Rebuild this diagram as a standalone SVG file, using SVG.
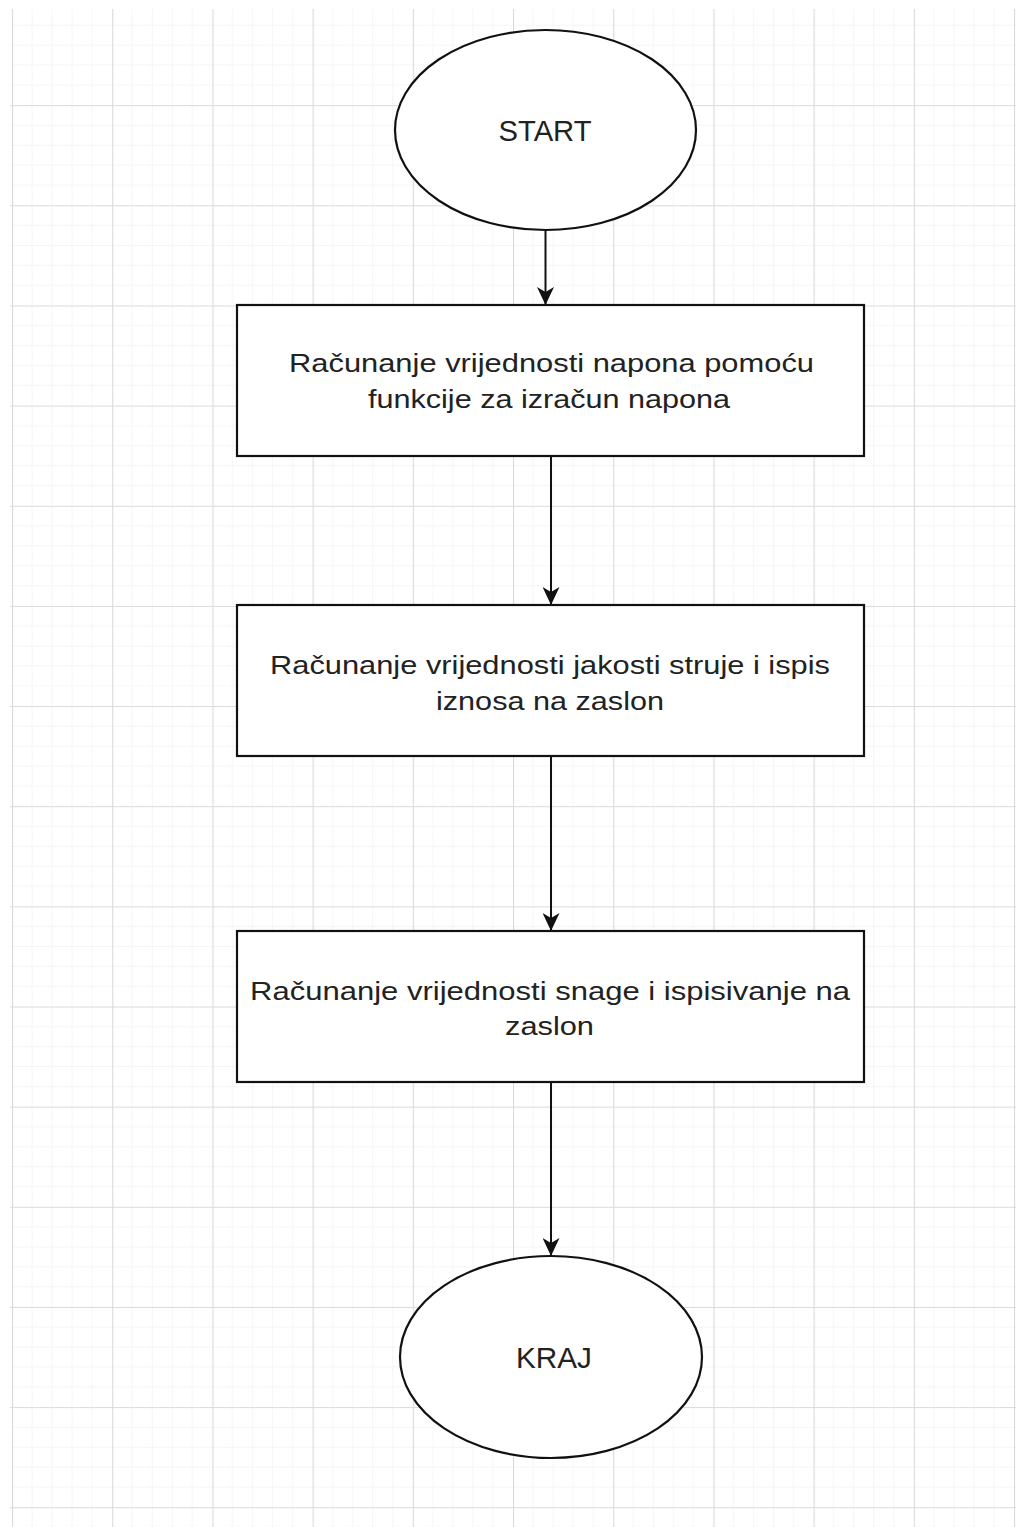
<svg xmlns="http://www.w3.org/2000/svg" width="1016" height="1527" viewBox="0 0 1016 1527">
  <style>
    .node { fill: #ffffff; stroke: #111111; stroke-width: 2.2; }
    .lbl { font-family: "Liberation Sans", Arial, sans-serif; fill: #222222; text-anchor: middle; }
    .big { font-size: 29px; }
    .body { font-size: 25.5px; }
    .edge { stroke: #111111; stroke-width: 2; fill: none; }
  </style>
  <defs>
    <pattern id="grid" x="12" y="5" width="100.2" height="100.15" patternUnits="userSpaceOnUse">
      <path d="M20.04 0 V100.15 M40.08 0 V100.15 M60.12 0 V100.15 M80.16 0 V100.15 M0 20.03 H100.2 M0 40.06 H100.2 M0 60.09 H100.2 M0 80.12 H100.2" stroke="#f5f5f5" stroke-width="1" fill="none"/>
      <path d="M0.5 0 V100.15 M0 0.5 H100.2" stroke="#dadada" stroke-width="1.2" fill="none"/>
    </pattern>
    <marker id="arrow" viewBox="0 0 18 17" refX="18" refY="8.5" markerWidth="18" markerHeight="17" markerUnits="userSpaceOnUse" orient="auto">
      <path d="M0,0 L18,8.5 L0,17 L5,8.5 z" fill="#111111"/>
    </marker>
  </defs>

  <rect x="0" y="0" width="1016" height="1527" fill="#ffffff"/>
  <rect x="10" y="9" width="1006" height="1518" fill="url(#grid)"/>

  <g id="connectors">
    <line class="edge" x1="545.5" y1="230" x2="545.5" y2="305" marker-end="url(#arrow)"/>
    <line class="edge" x1="551" y1="456" x2="551" y2="605" marker-end="url(#arrow)"/>
    <line class="edge" x1="551" y1="756" x2="551" y2="931" marker-end="url(#arrow)"/>
    <line class="edge" x1="551" y1="1082" x2="551" y2="1256" marker-end="url(#arrow)"/>
  </g>

  <g id="start">
    <ellipse class="node" cx="545.5" cy="130" rx="150.5" ry="100"/>
    <text class="lbl big" x="545" y="141" textLength="93" lengthAdjust="spacingAndGlyphs">START</text>
  </g>

  <g id="step1">
    <rect class="node" x="237" y="305" width="627" height="151"/>
    <text class="lbl body" x="551.5" y="372" textLength="525" lengthAdjust="spacingAndGlyphs">Računanje vrijednosti napona pomoću</text>
    <text class="lbl body" x="549" y="408" textLength="362" lengthAdjust="spacingAndGlyphs">funkcije za izračun napona</text>
  </g>

  <g id="step2">
    <rect class="node" x="237" y="605" width="627" height="151"/>
    <text class="lbl body" x="550" y="674" textLength="560" lengthAdjust="spacingAndGlyphs">Računanje vrijednosti jakosti struje i ispis</text>
    <text class="lbl body" x="550" y="710" textLength="228" lengthAdjust="spacingAndGlyphs">iznosa na zaslon</text>
  </g>

  <g id="step3">
    <rect class="node" x="237" y="931" width="627" height="151"/>
    <text class="lbl body" x="550" y="1000" textLength="600" lengthAdjust="spacingAndGlyphs">Računanje vrijednosti snage i ispisivanje na</text>
    <text class="lbl body" x="549.5" y="1035" textLength="89" lengthAdjust="spacingAndGlyphs">zaslon</text>
  </g>

  <g id="end">
    <ellipse class="node" cx="551" cy="1357" rx="151" ry="101"/>
    <text class="lbl big" x="554" y="1368" textLength="76" lengthAdjust="spacingAndGlyphs">KRAJ</text>
  </g>
</svg>
